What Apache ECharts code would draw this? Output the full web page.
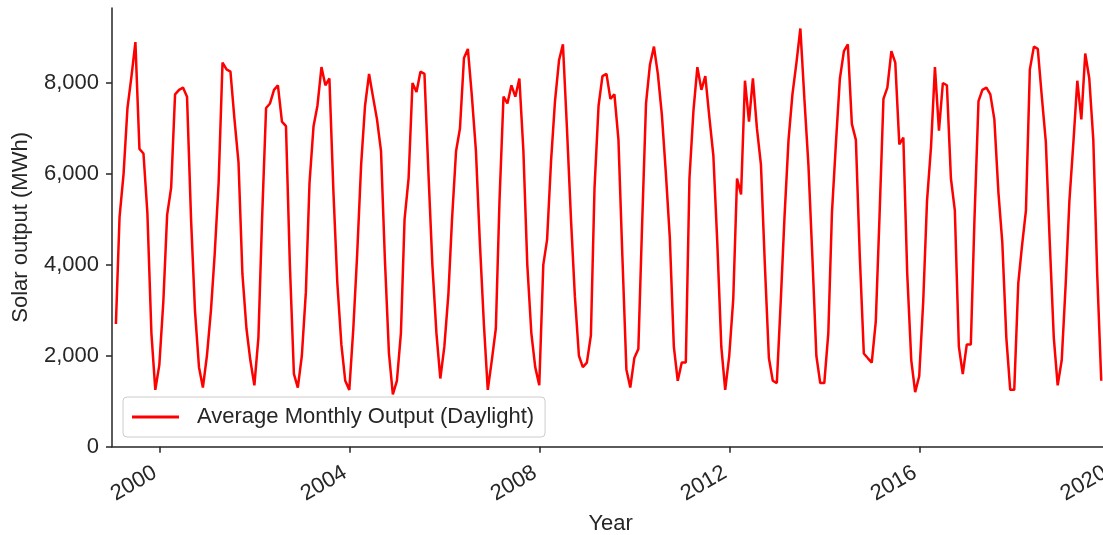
<!DOCTYPE html>
<html><head><meta charset="utf-8">
<script src="https://cdn.jsdelivr.net/npm/echarts@6/dist/echarts.min.js"></script>
<style>html,body{margin:0;padding:0;background:#fff}#c{width:1103px;height:535px}</style>
</head><body><div id="c"></div>
<script>
// Average monthly solar output (MWh), one array per year, Jan..Dec (month-end samples)
const firstYear = 1999;
const out1999 = [2700, 5050, 6000, 7450, 8150, 8900, 6550, 6450, 5150, 2500, 1250, 1800];
const out2000 = [3200, 5100, 5700, 7750, 7850, 7900, 7700, 5000, 3000, 1750, 1300, 2000];
const out2001 = [3000, 4200, 5800, 8450, 8300, 8250, 7200, 6250, 3800, 2600, 1900, 1350];
const out2002 = [2400, 5000, 7450, 7550, 7850, 7950, 7150, 7050, 4000, 1600, 1300, 2000];
const out2003 = [3400, 5800, 7050, 7500, 8350, 7950, 8100, 5600, 3600, 2250, 1450, 1250];
const out2004 = [2600, 4200, 6200, 7500, 8200, 7700, 7200, 6500, 4100, 2050, 1150, 1450];
const out2005 = [2500, 5000, 5900, 8000, 7800, 8250, 8200, 6000, 4000, 2500, 1500, 2200];
const out2006 = [3350, 5000, 6500, 7000, 8550, 8750, 7700, 6500, 4500, 2700, 1250, 1900];
const out2007 = [2600, 5400, 7700, 7550, 7950, 7700, 8100, 6500, 4000, 2500, 1750, 1350];
const out2008 = [4000, 4550, 6300, 7600, 8500, 8850, 7000, 5000, 3300, 2000, 1750, 1850];
const out2009 = [2450, 5700, 7500, 8150, 8200, 7650, 7750, 6750, 4200, 1700, 1300, 1950];
const out2010 = [2150, 4800, 7550, 8400, 8800, 8200, 7300, 6000, 4600, 2200, 1450, 1850];
const out2011 = [1850, 5900, 7400, 8350, 7850, 8150, 7250, 6400, 4500, 2200, 1250, 2000];
const out2012 = [3250, 5900, 5550, 8050, 7150, 8100, 7000, 6200, 4000, 1950, 1450, 1400];
const out2013 = [3250, 5050, 6750, 7750, 8450, 9200, 7650, 6200, 4200, 2000, 1400, 1400];
const out2014 = [2500, 5150, 6700, 8100, 8700, 8850, 7100, 6750, 4200, 2050, 1950, 1850];
const out2015 = [2750, 5000, 7650, 7900, 8700, 8450, 6650, 6800, 3800, 1900, 1200, 1550];
const out2016 = [3200, 5400, 6600, 8350, 6950, 8000, 7950, 5900, 5200, 2200, 1600, 2250];
const out2017 = [2250, 5000, 7600, 7850, 7900, 7750, 7200, 5600, 4500, 2400, 1250, 1250];
const out2018 = [3600, 4400, 5200, 8300, 8800, 8750, 7700, 6700, 4500, 2400, 1350, 1900];
const out2019 = [3600, 5400, 6700, 8050, 7200, 8650, 8100, 6750, 3800, 1450];
const yearlyOutput = [out1999, out2000, out2001, out2002, out2003, out2004, out2005, out2006,
  out2007, out2008, out2009, out2010, out2011, out2012, out2013, out2014, out2015, out2016,
  out2017, out2018, out2019];
const xTickYears = [2000, 2004, 2008, 2012, 2016, 2020];
const yTickValues = [0, 2000, 4000, 6000, 8000];
const seriesName = 'Average Monthly Output (Daylight)';

const seriesData = [];
yearlyOutput.forEach((arr, k) => arr.forEach((v, m) => {
  seriesData.push([new Date(firstYear + k, m + 1, 0).getTime(), v]);
}));
const yearTs = y => new Date(y, 0, 1).getTime();

const FONT = "'Liberation Sans', Arial, Helvetica, sans-serif";
const TXT = '#262626';
const chart = echarts.init(document.getElementById('c'), null, {renderer: 'canvas'});
chart.setOption({
  animation: false,
  backgroundColor: '#ffffff',
  grid: {left: 112, right: -6.3, top: 8, bottom: 88.3, containLabel: false, outerBoundsMode: 'none'},
  legend: {
    left: 123, top: 397,
    padding: [9, 11, 9, 9],
    itemWidth: 47, itemHeight: 3,
    backgroundColor: 'rgba(255,255,255,0.8)',
    borderColor: '#cccccc', borderWidth: 1, borderRadius: 4,
    textStyle: {fontSize: 22, color: TXT, fontFamily: FONT, padding: [0, 0, 0, 13]},
    data: [{name: seriesName, icon: 'rect', itemStyle: {color: '#ff0000'}}]
  },
  xAxis: {
    type: 'value',
    min: yearTs(1999), max: yearTs(2020),
    name: 'Year', nameLocation: 'middle', nameGap: 66,
    nameTextStyle: {fontSize: 22, color: TXT, fontFamily: FONT},
    axisLine: {show: true, lineStyle: {color: TXT, width: 1.5}},
    axisTick: {show: true, length: 6, lineStyle: {color: TXT, width: 1.5},
      customValues: xTickYears.map(yearTs)},
    axisLabel: {show: true, rotate: 30, margin: 22, padding: [0, 5, 0, 0],
      fontSize: 22, color: TXT, fontFamily: FONT,
      customValues: xTickYears.map(yearTs),
      formatter: v => String(new Date(v).getFullYear())},
    splitLine: {show: false}
  },
  yAxis: {
    type: 'value',
    min: 0, max: 9650,
    name: 'Solar output (MWh)', nameLocation: 'middle', nameGap: 80,
    nameTextStyle: {fontSize: 22, color: TXT, fontFamily: FONT},
    axisLine: {show: true, lineStyle: {color: TXT, width: 1.5}},
    axisTick: {show: true, length: 6, lineStyle: {color: TXT, width: 1.5}, customValues: yTickValues},
    axisLabel: {show: true, margin: 13, fontSize: 22, color: TXT, fontFamily: FONT,
      customValues: yTickValues,
      formatter: v => v.toLocaleString('en-US')},
    splitLine: {show: false}
  },
  series: [{
    name: seriesName,
    type: 'line',
    data: seriesData,
    symbol: 'none',
    lineStyle: {color: '#ff0000', width: 2.5},
    itemStyle: {color: '#ff0000'}
  }]
});
</script></body></html>
